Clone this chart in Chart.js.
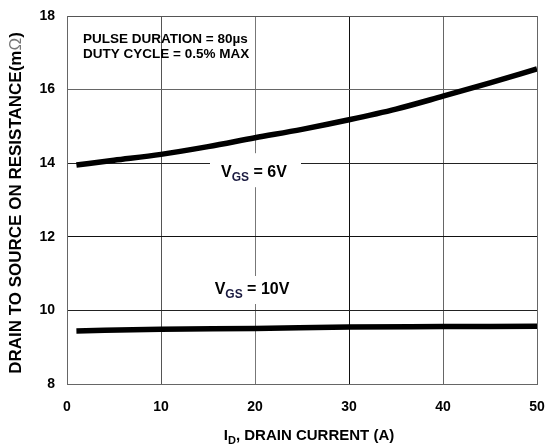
<!DOCTYPE html>
<html><head><meta charset="utf-8">
<script src="https://cdn.jsdelivr.net/npm/chart.js@4"></script>
<style>html,body{margin:0;padding:0;background:#fff}</style>
</head><body>
<canvas id="c" width="546" height="446" style="width:546px;height:446px"></canvas>
<script>
// ---- data ----
const currentVgs6 = [1, 5, 10, 15, 20, 25, 30, 35, 40, 45, 50];
const resistanceVgs6 = [13.95, 14.08, 14.24, 14.45, 14.69, 14.92, 15.18, 15.47, 15.82, 16.18, 16.56];
const currentVgs10 = [1, 10, 20, 30, 40, 50];
const resistanceVgs10 = [9.44, 9.49, 9.51, 9.55, 9.56, 9.57];
const xTicks = [0, 10, 20, 30, 40, 50];
const yTicks = [8, 10, 12, 14, 16, 18];

const FONT = "'Liberation Sans', Arial, sans-serif";
const xGridColors = {0:'#666',10:'#555',20:'#777',30:'#111',40:'#666',50:'#666'};
const yGridColors = {8:'#666',10:'#222',12:'#111',14:'#222',16:'#666',18:'#555'};

function pts(xs, ys){ return xs.map((x,i)=>({x:x, y:ys[i]})); }

function drawSubLabel(ctx, x, baseline, main, sub, rest, size, subSize, box){
  ctx.save();
  ctx.font = `bold ${size}px ${FONT}`;
  const w1 = ctx.measureText(main).width;
  ctx.font = `bold ${subSize}px ${FONT}`;
  const w2 = ctx.measureText(sub).width;
  ctx.font = `bold ${size}px ${FONT}`;
  const w3 = ctx.measureText(rest).width;
  const total = w1 + w2 + w3;
  const left = x - total/2;
  if (box){
    ctx.fillStyle = '#fff';
    ctx.fillRect(box[0], box[1], box[2], box[3]);
  }
  ctx.fillStyle = '#000';
  ctx.textBaseline = 'alphabetic';
  ctx.textAlign = 'left';
  ctx.fillText(main, left, baseline);
  ctx.font = `bold ${subSize}px ${FONT}`;
  ctx.fillStyle = '#1a1a40';
  ctx.fillText(sub, left + w1, baseline + 4);
  ctx.fillStyle = '#000';
  ctx.font = `bold ${size}px ${FONT}`;
  ctx.fillText(rest, left + w1 + w2, baseline);
  ctx.restore();
}

const textPlugin = {
  id: 'texts',
  afterDatasetsDraw(chart){
    const ctx = chart.ctx;
    const xs = chart.scales.x, ys = chart.scales.y;
    ctx.save();
    // annotation
    ctx.fillStyle = '#000';
    ctx.font = `bold 13.5px ${FONT}`;
    ctx.textAlign = 'left';
    ctx.textBaseline = 'alphabetic';
    ctx.fillText('PULSE DURATION = 80\u00b5s', 83, 43);
    ctx.fillText('DUTY CYCLE = 0.5% MAX', 83, 58);
    // curve labels with white boxes
    const cx = xs.getPixelForValue(20);
    drawSubLabel(ctx, cx - 1, 177, 'V', 'GS', ' = 6V', 16, 12, [210, ys.getPixelForValue(14) - 10, 91, 34]);
    drawSubLabel(ctx, cx - 3, 294, 'V', 'GS', ' = 10V', 16, 12, [212, 276, 82, 28]);
    // x-axis title
    ctx.font = `bold 15px ${FONT}`;
    const a = 'I', b = 'D', c = ', DRAIN CURRENT (A)';
    const wa = ctx.measureText(a).width;
    ctx.font = `bold 11px ${FONT}`;
    const wb = ctx.measureText(b).width;
    ctx.font = `bold 15px ${FONT}`;
    const wc = ctx.measureText(c).width;
    let left = 309 - (wa+wb+wc)/2;
    ctx.fillText(a, left, 440);
    ctx.font = `bold 11px ${FONT}`;
    ctx.fillText(b, left + wa, 444);
    ctx.font = `bold 15px ${FONT}`;
    ctx.fillText(c, left + wa + wb, 440);
    // y-axis title
    ctx.translate(21, 203);
    ctx.rotate(-Math.PI/2);
    const t1 = 'DRAIN TO SOURCE ON RESISTANCE(m', t2 = '\u03a9', t3 = ')';
    const sz = 17;
    ctx.font = `bold ${sz}px ${FONT}`;
    const w1 = ctx.measureText(t1).width;
    ctx.font = `${sz}px ${FONT}`;
    const w2 = ctx.measureText(t2).width;
    ctx.font = `bold ${sz}px ${FONT}`;
    const w3 = ctx.measureText(t3).width;
    let l = -(w1+w2+w3)/2;
    ctx.fillStyle = '#000';
    ctx.fillText(t1, l, 0);
    ctx.font = `${sz}px ${FONT}`;
    ctx.fillStyle = '#777';
    ctx.fillText(t2, l + w1, 0);
    ctx.fillStyle = '#000';
    ctx.font = `bold ${sz}px ${FONT}`;
    ctx.fillText(t3, l + w1 + w2, 0);
    ctx.restore();
  }
};

new Chart(document.getElementById('c'), {
  type: 'line',
  data: {
    datasets: [
      { label: 'VGS = 6V', data: pts(currentVgs6, resistanceVgs6), borderColor: '#000', borderWidth: 5.5,
        pointRadius: 0, tension: 0.4, cubicInterpolationMode: 'monotone', fill: false, borderCapStyle: 'butt' },
      { label: 'VGS = 10V', data: pts(currentVgs10, resistanceVgs10), borderColor: '#000', borderWidth: 5.5,
        pointRadius: 0, tension: 0.4, cubicInterpolationMode: 'monotone', fill: false, borderCapStyle: 'butt' }
    ]
  },
  options: {
    responsive: false,
    animation: false,
    devicePixelRatio: 1,
    layout: { padding: { top: 16, right: 9, left: 0, bottom: 0 } },
    plugins: { legend: { display: false }, tooltip: { enabled: false } },
    scales: {
      x: {
        type: 'linear', min: 0, max: 50,
        afterBuildTicks: s => { s.ticks = xTicks.map(v => ({ value: v })); },
        afterFit: s => { s.height = 62; s.paddingLeft = 0; s.paddingRight = 0; },
        grid: { drawTicks: false, color: ctx => xGridColors[ctx.tick ? ctx.tick.value : 0] || '#666', lineWidth: 1 },
        border: { color: '#666', width: 1 },
        ticks: { color: '#000', padding: 15, font: { family: FONT, size: 14, weight: 'bold' } }
      },
      y: {
        type: 'linear', min: 8, max: 18,
        afterBuildTicks: s => { s.ticks = yTicks.map(v => ({ value: v })); },
        afterFit: s => { s.width = 67; s.paddingTop = 0; s.paddingBottom = 0; },
        grid: { drawTicks: false, color: ctx => yGridColors[ctx.tick ? ctx.tick.value : 8] || '#666', lineWidth: 1 },
        border: { color: '#666', width: 1 },
        ticks: { color: '#000', padding: 12, font: { family: FONT, size: 14, weight: 'bold' } }
      }
    }
  },
  plugins: [textPlugin]
});
</script>
</body></html>
